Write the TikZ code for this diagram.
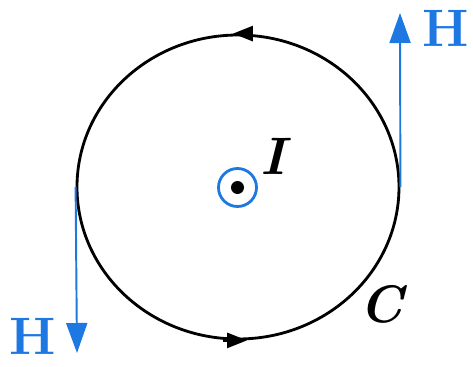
\documentclass[tikz,border=0pt]{standalone}
\usepackage{tikz}
\usetikzlibrary{positioning,arrows.meta,shapes.geometric}
\definecolor{fieldblue}{RGB}{30,120,225}

\begin{document}
\begin{tikzpicture}[
    contour/.style={ellipse,draw,line width=1.6pt,minimum width=6.44cm,minimum height=6.08cm,inner sep=0pt},
    field/.style={draw=fieldblue,line width=1.1pt,-{Triangle[length=0.6cm,width=0.42cm]},fieldblue},
    sens/.style={line width=1.6pt,-{Triangle[length=0.4cm,width=0.3cm]}},
    lettre/.style={font=\fontsize{30}{32}\selectfont\bfseries,text=fieldblue,inner sep=0pt},
    lettreit/.style={font=\fontsize{30}{32}\selectfont\bfseries\itshape,inner sep=0pt}]

\useasboundingbox (0,0) rectangle (9.46,7.32);

% contour C
\node[contour] (loop) at (4.76,3.58) {};
\draw[sens] ([xshift=0.3cm]loop.north) -- ([xshift=-0.1cm]loop.north);
\draw[sens] ([xshift=-0.3cm]loop.south) -- ([xshift=0.18cm]loop.south);

% champ H
\coordinate (h1) at (8.0,7.06);
\coordinate (h2) at (1.54,0.26);
\draw[field] (loop.east) -- (h1);
\draw[field] (loop.west) -- (h2);
\node[lettre] (hR) at (8.92,6.76) {H};
\node[lettre] (hL) at (0.65,0.59) {H};

% courant I
\node[circle,draw=fieldblue,line width=1.6pt,minimum size=0.76cm,inner sep=0pt] (courant) at (4.75,3.57) {};
\node[circle,fill,minimum size=0.26cm,inner sep=0pt] (point) at (courant) {};
\node[lettreit] (lblI) at (5.46,4.2) {I};
\node[lettreit] (lblC) at (7.62,1.24) {C};

\end{tikzpicture}
\end{document}
